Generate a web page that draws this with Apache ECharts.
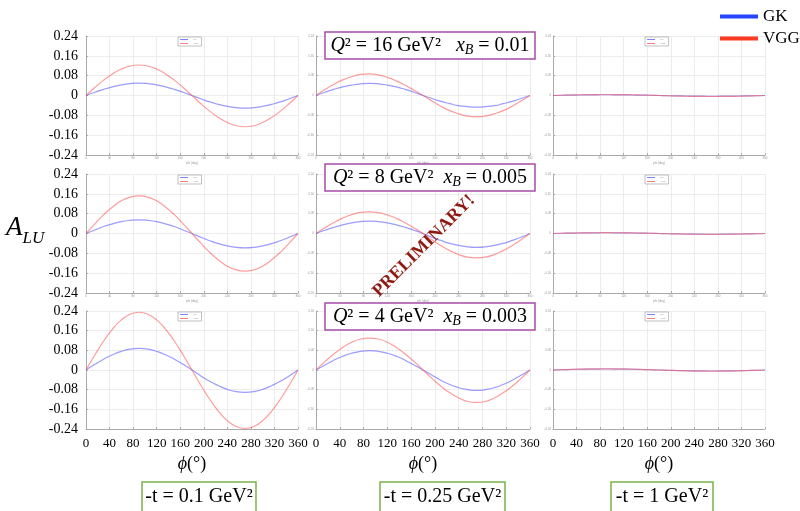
<!DOCTYPE html>
<html>
<head>
<meta charset="utf-8">
<script src="https://cdn.jsdelivr.net/npm/echarts@6/dist/echarts.min.js"></script>
<style>
html,body{margin:0;padding:0;background:#fff;}
#c{width:800px;height:511px;}
</style>
</head>
<body>
<div id="c"></div>
<script>
// phi values (degrees)
const PHI = [0,15,30,45,60,75,90,105,120,135,150,165,180,195,210,225,240,255,270,285,300,315,330,345,360];

// Row 1: Q2 = 16 GeV2, xB = 0.01
const GK_Q16_T01  = [0,.013,.025,.035,.043,.048,.050,.048,.043,.035,.025,.013,0,-.013,-.026,-.036,-.044,-.049,-.051,-.049,-.044,-.036,-.026,-.013,0];
const VGG_Q16_T01 = [0,.032,.062,.087,.107,.119,.123,.119,.107,.087,.062,.032,0,-.033,-.063,-.089,-.109,-.122,-.126,-.122,-.109,-.089,-.063,-.033,0];
const GK_Q16_T025  = [0,.013,.025,.035,.042,.047,.049,.047,.042,.035,.025,.013,0,-.012,-.024,-.033,-.041,-.045,-.047,-.045,-.041,-.033,-.024,-.012,0];
const VGG_Q16_T025 = [0,.024,.045,.063,.076,.085,.087,.083,.073,.059,.041,.021,0,-.022,-.043,-.061,-.074,-.083,-.086,-.083,-.074,-.061,-.043,-.022,0];
const GK_Q16_T1  = [0,.001,.0015,.002,.0026,.0029,.003,.0029,.0026,.002,.0015,.001,0,-.001,-.0015,-.002,-.0026,-.0029,-.003,-.0029,-.0026,-.002,-.0015,-.001,0];
const VGG_Q16_T1 = [0,.001,.002,.003,.0035,.0039,.004,.0039,.0035,.003,.002,.001,0,-.001,-.002,-.003,-.0035,-.0039,-.004,-.0039,-.0035,-.003,-.002,-.001,0];

// Row 2: Q2 = 8 GeV2, xB = 0.005
const GK_Q8_T01  = [0,.014,.028,.039,.048,.053,.055,.053,.048,.039,.028,.014,0,-.015,-.029,-.041,-.050,-.056,-.058,-.056,-.050,-.041,-.029,-.015,0];
const VGG_Q8_T01 = [0,.039,.076,.107,.132,.147,.152,.147,.132,.107,.076,.039,0,-.039,-.076,-.107,-.132,-.147,-.152,-.147,-.132,-.107,-.076,-.039,0];
const GK_Q8_T025  = [0,.013,.025,.035,.043,.048,.050,.048,.043,.035,.025,.013,0,-.015,-.028,-.040,-.048,-.054,-.056,-.054,-.048,-.040,-.028,-.015,0];
const VGG_Q8_T025 = [0,.023,.044,.062,.076,.085,.087,.084,.075,.061,.043,.022,0,-.025,-.049,-.069,-.085,-.095,-.098,-.095,-.085,-.069,-.049,-.025,0];
const GK_Q8_T1  = [0,.001,.0015,.002,.0025,.0028,.003,.0028,.0025,.002,.0015,.001,0,-.001,-.0015,-.002,-.0025,-.0028,-.003,-.0028,-.0025,-.002,-.0015,-.001,0];
const VGG_Q8_T1 = [0,.001,.0017,.0023,.0028,.0031,.0032,.0031,.0028,.0023,.0017,.001,0,-.001,-.0017,-.0023,-.0028,-.0031,-.0032,-.0031,-.0028,-.0023,-.0017,-.001,0];

// Row 3: Q2 = 4 GeV2, xB = 0.003
const GK_Q4_T01  = [0,.023,.044,.062,.076,.085,.088,.085,.076,.062,.044,.023,0,-.024,-.046,-.064,-.079,-.088,-.091,-.088,-.079,-.064,-.046,-.024,0];
const VGG_Q4_T01 = [0,.061,.118,.166,.204,.227,.235,.227,.204,.166,.118,.061,0,-.062,-.119,-.168,-.206,-.230,-.238,-.230,-.206,-.168,-.119,-.062,0];
const GK_Q4_T025  = [0,.020,.040,.056,.068,.076,.079,.076,.068,.056,.040,.020,0,-.021,-.042,-.059,-.072,-.080,-.083,-.080,-.072,-.059,-.042,-.021,0];
const VGG_Q4_T025 = [0,.034,.065,.092,.113,.126,.130,.126,.113,.092,.065,.034,0,-.034,-.066,-.093,-.114,-.128,-.132,-.128,-.114,-.093,-.066,-.034,0];
const GK_Q4_T1  = [0,.001,.002,.003,.0035,.0039,.004,.0039,.0035,.003,.002,.001,0,-.001,-.002,-.003,-.0035,-.0039,-.004,-.0039,-.0035,-.003,-.002,-.001,0];
const VGG_Q4_T1 = [0,.0013,.0025,.0035,.0043,.0048,.005,.0048,.0043,.0035,.0025,.0013,0,-.0013,-.0025,-.0035,-.0043,-.0048,-.005,-.0048,-.0043,-.0035,-.0025,-.0013,0];

const ROW_LABELS = [["16","0.01"],["8","0.005"],["4","0.003"]];
const COL_LABELS = ["0.1","0.25","1"];

const PANELS = [
  [[GK_Q16_T01,VGG_Q16_T01],[GK_Q16_T025,VGG_Q16_T025],[GK_Q16_T1,VGG_Q16_T1]],
  [[GK_Q8_T01,VGG_Q8_T01],[GK_Q8_T025,VGG_Q8_T025],[GK_Q8_T1,VGG_Q8_T1]],
  [[GK_Q4_T01,VGG_Q4_T01],[GK_Q4_T025,VGG_Q4_T025],[GK_Q4_T1,VGG_Q4_T1]]
];

// layout
const COLS = [{left:86,width:212},{left:316,width:214},{left:553,width:212}];
const ROWS = [{top:36,height:119},{top:174,height:119},{top:311,height:118}];
const SERIF = 'Liberation Serif';

const grids=[], xAxes=[], yAxes=[], series=[];
const legends=[{
  left:715, top:3, orient:'vertical', icon:'rect', itemWidth:38, itemHeight:4, itemGap:5,
  selectedMode:false,
  textStyle:{fontSize:17, fontFamily:SERIF, color:'#000'},
  data:[{name:'GK', itemStyle:{color:'#2544ff'}},{name:'VGG', itemStyle:{color:'#ff3a22'}}]
}];

for(let r=0;r<3;r++){
  for(let c=0;c<3;c++){
    const idx = r*3+c;
    const col=COLS[c], row=ROWS[r];
    grids.push({left:col.left, top:row.top, width:col.width, height:row.height, containLabel:false});
    const bigX = (r===2), bigY = (c===0);
    xAxes.push({
      type:'value', gridIndex:idx, min:0, max:360, interval:40,
      axisLine:{show:true, onZero:false, lineStyle:{color:'#aaa', width:1}},
      axisTick:{show:true, inside:true, length:2, lineStyle:{color:'#aaa'}},
      splitLine:{show:true, lineStyle:{color:'#ececec', width:1}},
      axisLabel: bigX ? {fontSize:13, fontFamily:SERIF, color:'#000', margin:8}
                      : {fontSize:3, color:'#999', margin:2},
      name: bigX ? '{i|ϕ}(°)' : 'phi (deg)',
      nameLocation:'middle',
      nameGap: bigX ? 26 : 7,
      nameTextStyle: bigX ? {fontSize:18, fontFamily:SERIF, color:'#000',
                              rich:{i:{fontSize:18, fontFamily:SERIF, fontStyle:'italic', color:'#000'}}}
                          : {fontSize:3, color:'#999'}
    });
    yAxes.push({
      type:'value', gridIndex:idx, min:-0.24, max:0.24, interval:0.08,
      axisLine:{show:true, onZero:false, lineStyle:{color:'#aaa', width:1}},
      axisTick:{show:true, inside:true, length:2, lineStyle:{color:'#aaa'}},
      splitLine:{show:true, lineStyle:{color:'#ececec', width:1}},
      axisLabel: bigY ? {fontSize:14, fontFamily:SERIF, color:'#000', margin:8,
                          formatter:v=>String(Math.round(v*100)/100)}
                      : {fontSize:3, color:'#999', margin:2,
                          formatter:v=>String(Math.round(v*100)/100)}
    });
    const [gk,vgg] = PANELS[r][c];
    series.push({
      name:'GK', type:'line', xAxisIndex:idx, yAxisIndex:idx, smooth:true, showSymbol:false,
      lineStyle:{color:'rgba(90,90,255,0.6)', width:1.2}, itemStyle:{color:'rgba(90,90,255,0.6)'},
      data: PHI.map((p,i)=>[p,gk[i]]), z:3
    });
    series.push({
      name:'VGG', type:'line', xAxisIndex:idx, yAxisIndex:idx, smooth:true, showSymbol:false,
      lineStyle:{color:'rgba(255,90,90,0.6)', width:1.2}, itemStyle:{color:'rgba(255,90,90,0.6)'},
      data: PHI.map((p,i)=>[p,vgg[i]]), z:3
    });
    legends.push({
      left: col.left + col.width/2 - 14, top: row.top + 1, orient:'vertical',
      icon:'rect', itemWidth:8, itemHeight:1, itemGap:1, padding:[1,3,1,2],
      borderColor:'#999', borderWidth:0.6, backgroundColor:'#fff', selectedMode:false,
      textStyle:{fontSize:2.5, color:'#999'},
      data:[{name:'GK', itemStyle:{color:'#8080ff'}},{name:'VGG', itemStyle:{color:'#ff8080'}}]
    });
  }
}

const graphic = [];
// A_LU label
graphic.push({
  type:'text', left:6, top:214, z:10,
  style:{
    text:'{a|A}{s|LU}',
    rich:{
      a:{fontSize:27, fontFamily:SERIF, fontStyle:'italic', fill:'#000', verticalAlign:'bottom'},
      s:{fontSize:17, fontFamily:SERIF, fontStyle:'italic', fill:'#000', verticalAlign:'bottom', padding:[0,0,-6,0]}
    }
  }
});
// Q2 / xB boxes
const BOX_TOPS = [32,164,303];
for(let r=0;r<3;r++){
  const [q,xb] = ROW_LABELS[r];
  graphic.push({
    type:'rect', z:10, shape:{x:325, y:BOX_TOPS[r], width:210, height:27},
    style:{fill:'#fff', stroke:'#a64ca6', lineWidth:1.5}
  });
  graphic.push({
    type:'text', z:11, x:430, y:BOX_TOPS[r]+14,
    style:{
      text: r===0 ? '{i|Q}{n|² = '+q+' GeV²}{g|   }{i|x}{sub|B}{n| = '+xb+'}'
                  : '{i|Q}{n|² = '+q+' GeV²}{g|  }{i|x}{sub|B}{n| = '+xb+'}',
      align:'center', verticalAlign:'middle',
      rich:{
        i:{fontSize:20, fontFamily:SERIF, fontStyle:'italic', fill:'#000'},
        n:{fontSize:20, fontFamily:SERIF, fill:'#000'},
        g:{fontSize:20, fontFamily:SERIF, fill:'#000'},
        sub:{fontSize:14, fontFamily:SERIF, fontStyle:'italic', fill:'#000', padding:[8,0,0,0]}
      }
    }
  });
}
// -t boxes
const TBOX = [[142,114],[380,125],[611,102]];
for(let c=0;c<3;c++){
  graphic.push({
    type:'rect', z:10, shape:{x:TBOX[c][0], y:482, width:TBOX[c][1], height:32},
    style:{fill:'#fff', stroke:'#7bb24a', lineWidth:1.5}
  });
  graphic.push({
    type:'text', z:11, x:TBOX[c][0]+TBOX[c][1]/2, y:497,
    style:{text:'-t = '+COL_LABELS[c]+' GeV²', align:'center', verticalAlign:'middle',
           fontSize:20, fontFamily:SERIF, fill:'#000'}
  });
}
// stamp
graphic.push({
  type:'text', z:20, x:424, y:246, rotation:Math.PI/4,
  style:{text:'PRELIMINARY!', align:'center', verticalAlign:'middle',
         fontSize:18, fontWeight:'bold', fontFamily:SERIF, fill:'#8e1a12'}
});

const chart = echarts.init(document.getElementById('c'), null, {renderer:'canvas'});
chart.setOption({
  animation:false,
  backgroundColor:'#fff',
  grid:grids, xAxis:xAxes, yAxis:yAxes, series:series, legend:legends, graphic:graphic
});
</script>
</body>
</html>
